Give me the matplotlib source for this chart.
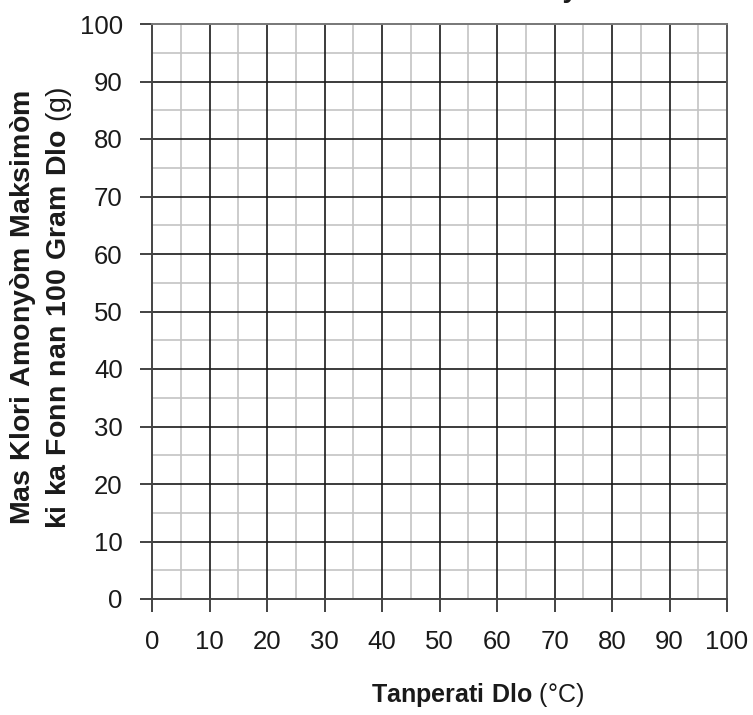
import matplotlib.pyplot as plt
import numpy as np

plt.rcParams['font.family'] = ['Liberation Sans', 'DejaVu Sans']
plt.rcParams['mathtext.fontset'] = 'custom'
plt.rcParams['mathtext.rm'] = 'Liberation Sans'
plt.rcParams['mathtext.bf'] = 'Liberation Sans:bold'

# grid / axis data
x_ticks = [0, 10, 20, 30, 40, 50, 60, 70, 80, 90, 100]
y_ticks = [0, 10, 20, 30, 40, 50, 60, 70, 80, 90, 100]
x_minor = [5, 15, 25, 35, 45, 55, 65, 75, 85, 95]
y_minor = [5, 15, 25, 35, 45, 55, 65, 75, 85, 95]

title = "Solibilite Klori Amonyòm"
xlabel_bold = "Tanperati Dlo"
xlabel_unit = "(°C)"
ylabel_line1 = "Mas Klori Amonyòm Maksimòm"
ylabel_line2 = "ki ka Fonn nan 100 Gram Dlo"
ylabel_unit = "(g)"

fig = plt.figure(figsize=(7.53, 7.15), dpi=100)
W, H = 753, 715
ax = fig.add_axes([152 / W, 1 - 599 / H, (727 - 152) / W, (599 - 24) / H])

ax.set_xlim(0, 100)
ax.set_ylim(0, 100)

# minor grid (light) then major grid (dark)
for v in x_minor:
    ax.axvline(v, color='#c4c4c4', lw=1.2, zorder=1)
for v in y_minor:
    ax.axhline(v, color='#c4c4c4', lw=1.2, zorder=1)
for v in x_ticks[1:-1]:
    ax.axvline(v, color='#1a1a1a', lw=1.2, zorder=2)
for v in y_ticks[1:-1]:
    ax.axhline(v, color='#1a1a1a', lw=1.2, zorder=2)

ax.set_xticks(x_ticks)
ax.set_yticks(y_ticks)
ax.set_xticklabels([str(t) for t in x_ticks])
ax.set_yticklabels([str(t) for t in y_ticks])
ax.tick_params(axis='both', direction='out', length=9, width=1.2, colors='#222222',
               labelsize=18.5, labelcolor='#1a1a1a')
ax.tick_params(axis='x', pad=13)
ax.tick_params(axis='y', pad=12)

for side in ['left', 'bottom']:
    ax.spines[side].set_color('#444444')
    ax.spines[side].set_linewidth(1.4)
ax.spines['top'].set_color('#777777')
ax.spines['top'].set_linewidth(1.4)
ax.spines['right'].set_color('#555555')
ax.spines['right'].set_linewidth(1.4)

# title: only the tail of the "y" shows at the top edge of the picture
fig.text(455 / W, 1 + 3 / H, title, ha='center', va='baseline', fontsize=20, fontweight='bold',
         color='#1a1a1a')

def bold_math(s):
    return r"$\mathbf{" + s.replace(" ", r"\ ") + "}$"

fig.text(478 / W, 1 - 695 / H, bold_math(xlabel_bold) + " " + xlabel_unit,
         ha='center', va='center', fontsize=18, color='#1a1a1a')
fig.text(23 / W, 1 - 308 / H, bold_math(ylabel_line1),
         ha='center', va='center', rotation=90, fontsize=20.5, color='#1a1a1a')
fig.text(59 / W, 1 - 308 / H, bold_math(ylabel_line2) + " " + ylabel_unit,
         ha='center', va='center', rotation=90, fontsize=20.5, color='#1a1a1a')

fig.savefig('out.png', dpi=100)
